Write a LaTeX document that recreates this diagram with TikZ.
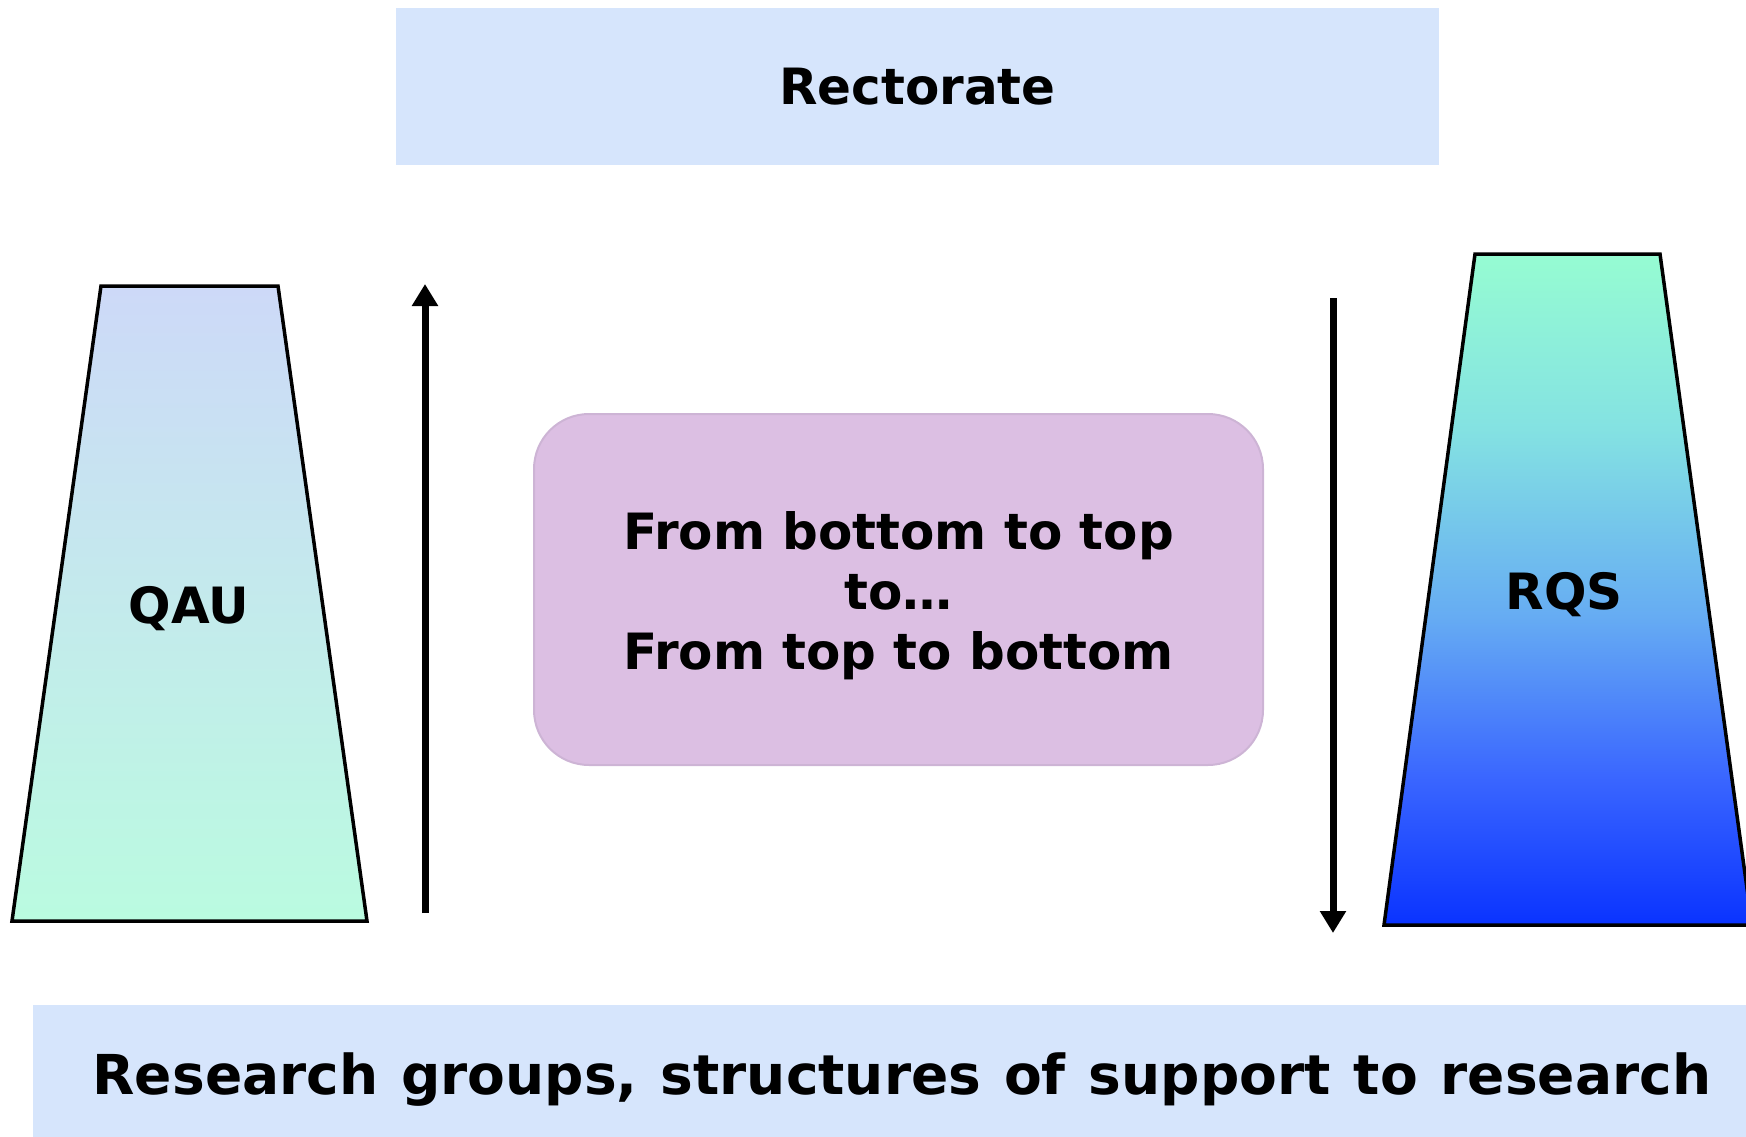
\documentclass[tikz,border=0pt]{standalone}
\usepackage{fontspec}
\setmainfont{DejaVu Sans}
\usetikzlibrary{arrows.meta, positioning}
\definecolor{levelbg}{HTML}{D6E5FC}
\definecolor{boxlilac}{HTML}{DCBFE3}
\definecolor{boxrim}{HTML}{CDB4D5}
\definecolor{qautop}{HTML}{CDD9F8}
\definecolor{qaumid}{HTML}{C8EEF2}
\definecolor{qaubot}{HTML}{BAFBE0}
\definecolor{rqsa}{HTML}{96FCD2}
\definecolor{rqsb}{HTML}{84E2E2}
\definecolor{rqsc}{HTML}{66ACF3}
\definecolor{rqsd}{HTML}{3A66FF}
\definecolor{rqse}{HTML}{0A33FF}
% sfumatura della colonna di destra (dal basso verso l'alto)
\pgfdeclareverticalshading{rqsshade}{100bp}{color(0bp)=(rqse); color(25bp)=(rqse);
  color(36bp)=(rqsd); color(48bp)=(rqsc); color(62bp)=(rqsb); color(75bp)=(rqsa);
  color(100bp)=(rqsa)}
\tikzset{
  % testo grande in grassetto
  bigtxt/.style={font=\fontsize{50}{60}\selectfont\bfseries, align=center},
  % fascia orizzontale (livello)
  level/.style={bigtxt, fill=levelbg, inner sep=0pt},
  % riquadro centrale arrotondato
  msgbox/.style={bigtxt, fill=boxlilac, draw=boxrim, line width=2pt,
    rounded corners=55pt, inner sep=0pt},
  % colonne a trapezio
  column/.style={draw=black, line width=3.5pt, line join=miter},
  % frecce verticali
  flow/.style={line width=7pt, -{Triangle[width=25pt, length=22pt]}},
}
\begin{document}
\begin{tikzpicture}[x=1pt, y=-1pt]
  \useasboundingbox (0,0) rectangle (1746,1137);
  % livelli
  \node[level, minimum width=1043pt, minimum height=157pt] (rector) at (917.5,86.5) {Rectorate};
  \node[level, minimum width=1738pt, minimum height=150pt,
    font=\fontsize{55}{66}\selectfont\bfseries] (groups) at (902,1080)
    {\spaceskip=23pt Research groups, structures of support to research};
  % colonne
  \shade[column, top color=qautop, middle color=qaumid, bottom color=qaubot]
    (101,286) -- (278,286) -- (367,921) -- (12,921) -- cycle;
  \node[bigtxt] (qau) at (189,609) {QAU};
  \shade[column, shading=rqsshade]
    (1475,254) -- (1660,254) -- (1752,925) -- (1384,925) -- cycle;
  \node[bigtxt] (rqs) at (1564,595) {RQS};
  % riquadro centrale
  \node[msgbox, minimum width=729pt, minimum height=351pt, text height=171pt] (dir) at (898.5,589.5)
    {From bottom to top\\to\dots\\From top to bottom};
  % frecce
  \coordinate (upbot) at (425,913);
  \coordinate (uptop) at (425,284);
  \coordinate (dntop) at (1333,298);
  \coordinate (dnbot) at (1333,933);
  \draw[flow] (upbot) -- (uptop);
  \draw[flow] (dntop) -- (dnbot);
\end{tikzpicture}
\end{document}
